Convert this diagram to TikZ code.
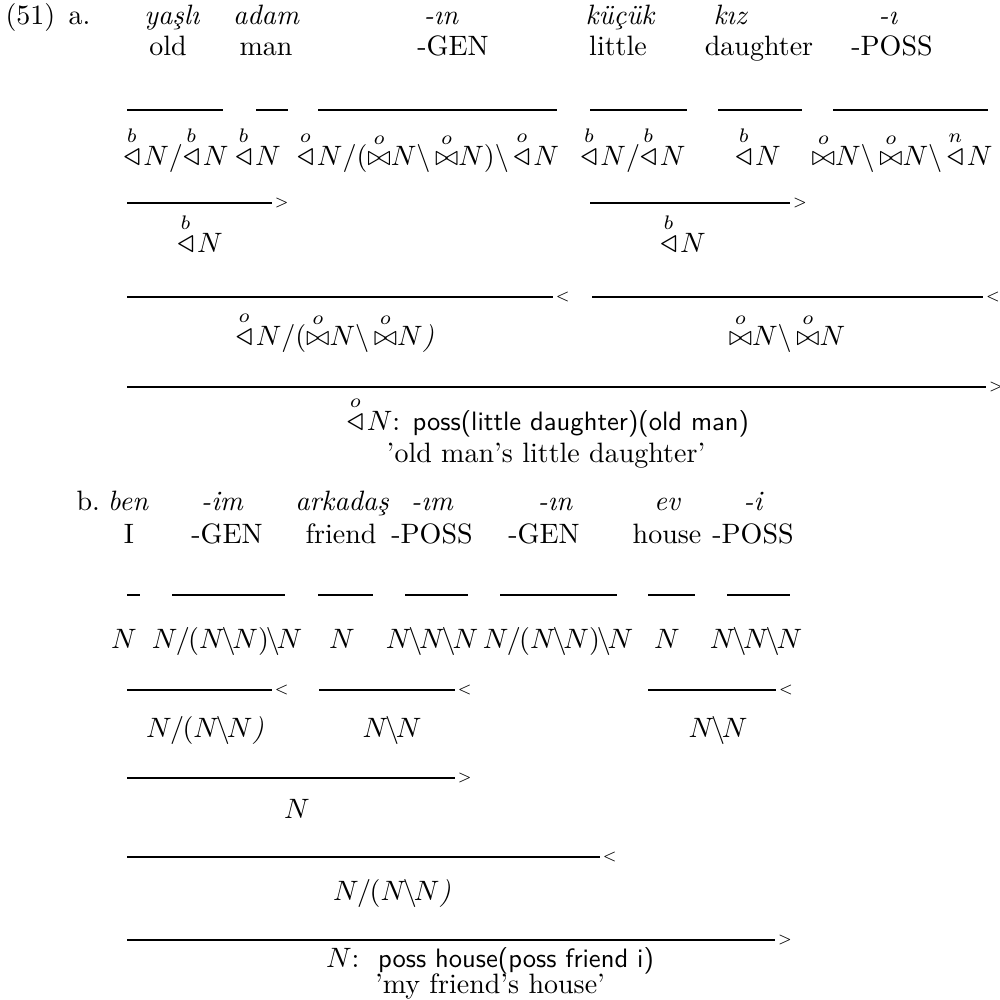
\documentclass[tikz,border=0pt]{standalone}
\usepackage{amsmath,amssymb,graphicx}
\usepackage{fontspec}
\newcommand{\bigtri}{\vcenter{\hbox{\scalebox{1.2}{$\triangleleft$}}}}
\newcommand{\trisup}[1]{\mathord{\overset{\raisebox{0.6pt}{$\scriptstyle #1$}}{\bigtri}}\mkern2mu}
\newcommand{\bowsup}[1]{\mathord{\overset{\raisebox{0.6pt}{$\scriptstyle #1$}}{\bowtie}}}
\newcommand{\bsl}{\backslash}
\newcommand{\cbs}{\mkern-2mu\backslash\mkern-2mu}
\newcommand{\csl}{\mkern-1mu/\mkern-1mu}

\begin{document}
\begin{tikzpicture}[
  x=0.357pt,
  y=-0.357pt,
  line cap=butt,
  rule/.style={draw=black,line width=0.8pt},
  word/.style={anchor=base,inner sep=0pt,font=\itshape},
  gloss/.style={anchor=base,inner sep=0pt},
  cat/.style={anchor=base,inner sep=0pt},
  sem/.style={anchor=base,inner sep=0pt},
  exlabel/.style={anchor=base west,inner sep=0pt},
  dirtip/.style={anchor=west,inner sep=0.4pt,font=\tiny}
]
  \newcommand{\lexline}[4]{%
    \coordinate (#1s) at (#2,#4);
    \coordinate (#1e) at (#3,#4);
    \draw[rule] (#1s) -- (#1e);
  }
  \newcommand{\combline}[5]{%
    \coordinate (#1s) at (#2,#4);
    \coordinate (#1e) at (#3,#4);
    \draw[rule] (#1s) -- (#1e) node[dirtip] (#1d) {$#5$};
  }
  \newcommand{\semtext}[1]{{\fontsize{9.5}{11}\sffamily #1}}
  \useasboundingbox (0,0) rectangle (1000,1000);

  % Example (a): words and glosses.
  \node[exlabel] (exnum) at (5,25) {(51)};
  \node[exlabel] (exa) at (68,25) {a.};
  \node[word] (ayasli) at (172,25) {yaşlı};
  \node[word] (aadam) at (266,25) {adam};
  \node[word] (ain) at (441,25) {-ın};
  \node[word] (akucuk) at (620,25) {küçük};
  \node[word] (akiz) at (730,25) {kız};
  \node[word] (ai) at (888,25) {-ı};
  \node[gloss] (aold) at (168,56) {old};
  \node[gloss] (aman) at (266,56) {man};
  \node[gloss] (agen) at (453,56) {-GEN};
  \node[gloss] (alittle) at (618,56) {little};
  \node[gloss] (adaughter) at (759,56) {daughter};
  \node[gloss] (aposs) at (892,56) {-POSS};

  % Lexical lines and categories.
  \lexline{a1}{127}{223}{110}
  \lexline{a2}{256}{288}{110}
  \lexline{a3}{318}{557}{110}
  \lexline{a4}{590}{687}{110}
  \lexline{a5}{718}{802}{110}
  \lexline{a6}{833}{988}{110}
  \node[cat] (ac1) at (176,165) {$\trisup{b}N/\trisup{b}N$};
  \node[cat] (ac2) at (258,165) {$\trisup{b}N$};
  \node[cat] (ac3) at (428,165) {$\trisup{o}N/(\bowsup{o}N\bsl\,\bowsup{o}N)\bsl\,\trisup{o}N$};
  \node[cat] (ac4) at (633,165) {$\trisup{b}N/\trisup{b}N$};
  \node[cat] (ac5) at (758,165) {$\trisup{b}N$};
  \node[cat] (ac6) at (902,165) {$\bowsup{o}N\bsl\,\bowsup{o}N\bsl\,\trisup{n}N$};

  % Combination steps.
  \combline{ar1}{127}{272}{203}{>}
  \combline{ar2}{590}{790}{203}{>}
  \node[cat] (ad1) at (200,252) {$\trisup{b}N$};
  \node[cat] (ad2) at (683,252) {$\trisup{b}N$};
  \combline{as1}{127}{553}{297}{<}
  \combline{as2}{592}{983}{297}{<}
  \node[cat] (ae1) at (335,345) {$\trisup{o}N/(\bowsup{o}N\bsl\,\bowsup{o}N\textit{)}$};
  \node[cat] (ae2) at (787,345) {$\bowsup{o}N\bsl\,\bowsup{o}N$};
  \combline{at1}{127}{986}{387}{>}
  \node[sem] (asem) at (548,430) {$\trisup{o}N$: \semtext{poss(little daughter)(old man)}};
  \node[gloss] (atrans) at (546,462) {'old man's little daughter'};

  % Example (b): words and glosses.
  \node[exlabel] (exb) at (76,510) {b.};
  \node[word] (bben) at (128,510) {ben};
  \node[word] (bim) at (222,510) {-im};
  \node[word] (barkadas) at (342,510) {arkadaş};
  \node[word] (bim2) at (432,510) {-ım};
  \node[word] (bin) at (555,510) {-ın};
  \node[word] (bev) at (667,510) {ev};
  \node[word] (bi) at (753,510) {-i};
  \node[gloss] (bI) at (129,543) {I};
  \node[gloss] (bgen) at (227,543) {-GEN};
  \node[gloss] (bfriend) at (341,543) {friend};
  \node[gloss] (bposs) at (432,543) {-POSS};
  \node[gloss] (bgen2) at (544,543) {-GEN};
  \node[gloss] (bhouse) at (667,543) {house};
  \node[gloss] (bposs2) at (753,543) {-POSS};

  % Lexical lines and categories.
  \lexline{b1}{127}{140}{595}
  \lexline{b2}{172}{285}{595}
  \lexline{b3}{318}{373}{595}
  \lexline{b4}{405}{468}{595}
  \lexline{b5}{500}{617}{595}
  \lexline{b6}{648}{695}{595}
  \lexline{b7}{727}{790}{595}
  \node[cat] (bc1) at (124,648) {$N$};
  \node[cat] (bc2) at (227,648) {$N\csl(N\cbs N)\cbs N$};
  \node[cat] (bc3) at (342,648) {$N$};
  \node[cat] (bc4) at (432,648) {$N\cbs N\cbs N$};
  \node[cat] (bc5) at (558,648) {$N\csl(N\cbs N)\cbs N$};
  \node[cat] (bc6) at (667,648) {$N$};
  \node[cat] (bc7) at (756,648) {$N\cbs N\cbs N$};

  % Combination steps.
  \combline{br1}{127}{272}{690}{<}
  \combline{br2}{319}{455}{690}{<}
  \combline{br3}{648}{776}{690}{<}
  \node[cat] (bd1) at (205,737) {$N\csl(N\cbs N\textit{)}$};
  \node[cat] (bd2) at (392,737) {$N\cbs N$};
  \node[cat] (bd3) at (718,737) {$N\cbs N$};
  \combline{bs1}{127}{455}{778}{>}
  \node[cat] (be1) at (297,818) {$N$};
  \combline{bt1}{127}{600}{857}{<}
  \node[cat] (bf1) at (392,900) {$N\csl(N\cbs N\textit{)}$};
  \combline{bu1}{127}{775}{940}{>}
  \node[sem] (bsem) at (490,967) {$N$:~~\semtext{poss house(poss friend i)}};
  \node[gloss] (btrans) at (490,993) {'my friend's house'};
\end{tikzpicture}
\end{document}
